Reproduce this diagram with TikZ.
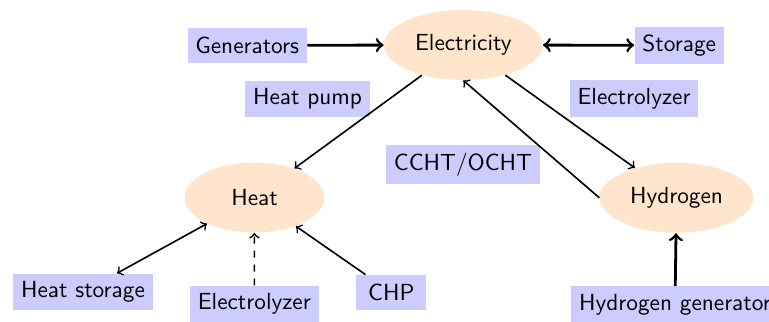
\documentclass[tikz,border=0pt]{standalone}
\usetikzlibrary{shapes.geometric}
\begin{document}
\begin{tikzpicture}[x=0.42918pt,y=-0.42918pt,
  font=\sffamily,
  hub/.style={ellipse,fill=orange!20,minimum width=6em,minimum height=3em},
  tech/.style={rectangle,fill=blue!20,minimum width=3em,minimum height=1.5em},
  light/.style={line width=0.7pt},
  heavy/.style={line width=1.2pt}]
\useasboundingbox (0,0) rectangle (769,322);
\node[hub] (elec) at (463.3,45) {Electricity};
\node[hub] (heat) at (254.5,197.5) {Heat};
\node[hub] (hyd) at (676.5,197.8) {Hydrogen};
\node[tech] (gen) at (247.2,45.3) {Generators};
\node[tech] (sto) at (679.2,45.3) {Storage};
\node[tech] (hp) at (307.5,98.7) {Heat pump};
\node[tech] (ely) at (634,98.7) {Electrolyzer};
\node[tech] (ccht) at (463,164.7) {CCHT/OCHT};
\node[tech] (hst) at (83,292) {Heat storage};
\node[tech] (ely2) at (254.3,304.2) {Electrolyzer};
\node[tech] (chp) at (391.3,292.5) {CHP};
\node[tech] (hgen) at (675,304.7) {Hydrogen generator};
\draw[->,heavy] (gen) -- (elec);
\draw[<->,heavy] (elec) -- (sto);
\draw[->,light] (elec) -- (heat);
\draw[->,light] (elec) -- (hyd);
\draw[->,light] (hyd.west) -- (elec.south);
\draw[<->,light] (hst) -- (heat);
\draw[->,dashed,light] (ely2) -- (heat);
\draw[->,light] (chp) -- (heat);
\draw[->,heavy] (hgen) -- (hyd);
\end{tikzpicture}
\end{document}
